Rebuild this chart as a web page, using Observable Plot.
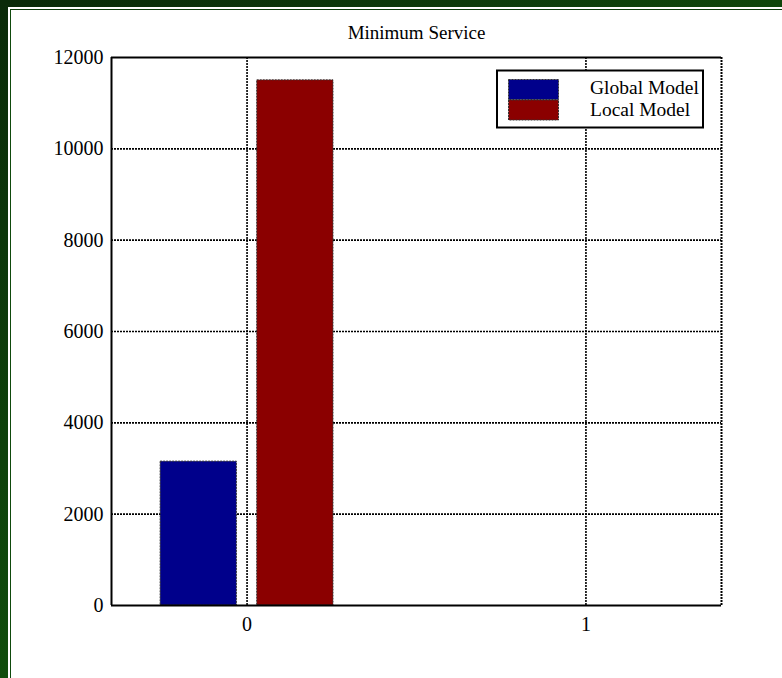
<!DOCTYPE html>
<html><head><meta charset="utf-8">
<script src="https://cdn.jsdelivr.net/npm/d3@7"></script>
<script src="https://cdn.jsdelivr.net/npm/@observablehq/plot@0.6"></script>
<style>
body{margin:0;background:#fff;}
#wrap{position:relative;width:782px;height:678px;overflow:hidden;background:#fff;}
#wrap svg{position:absolute;left:0;top:0;}
.b{position:absolute;}
</style></head><body><div id="wrap"></div>
<script>
const title = "Minimum Service";
const categories = [0];
const seriesNames = ["Global Model", "Local Model"];
const globalValues = [3150];
const localValues = [11500];
const seriesColors = ["#00008b", "#8b0000"];
const xTicks = [0, 1];
const yTicks = [0, 2000, 4000, 6000, 8000, 10000, 12000];

const barWidth = 0.225, barGap = 0.06;
const rows = [];
categories.forEach((c, i) => {
  [globalValues, localValues].forEach((vals, s) => {
    const x1 = s === 0 ? c - barGap / 2 - barWidth : c + barGap / 2;
    rows.push({cat: c, series: seriesNames[s], value: vals[i], zero: 0, x1, x2: x1 + barWidth});
  });
});

const xDom = [-0.4, 1.4], yDom = [0, 12000];
const font = "'Liberation Serif', 'Times New Roman', serif";

const chart = Plot.plot({
  width: 782, height: 678,
  marginLeft: 111, marginRight: 61, marginTop: 57, marginBottom: 73,
  style: {fontFamily: font, fontSize: "20px", color: "#000", background: "transparent"},
  x: {domain: xDom, ticks: xTicks, tickSize: 0, tickPadding: 11, tickFormat: d => String(d), label: null},
  y: {domain: yDom, ticks: yTicks, tickSize: 0, tickPadding: 8, tickFormat: d => String(d), label: null},
  color: {domain: seriesNames, range: seriesColors},
  marks: [
    Plot.ruleY(yTicks.filter(v => v > yDom[0] && v < yDom[1]), {stroke: "#000", strokeWidth: 1.6, strokeDasharray: "2,1"}),
    Plot.ruleX(xTicks, {stroke: "#000", strokeWidth: 1.6, strokeDasharray: "2,1"}),
    Plot.rect(rows, {x1: "x1", x2: "x2", y1: "zero", y2: "value", fill: "series", stroke: "#333", strokeWidth: 1, strokeDasharray: "2,1"}),
    Plot.ruleX([xDom[0]], {stroke: "#000", strokeWidth: 2}),
    Plot.ruleX([xDom[1]], {stroke: "#000", strokeWidth: 2, strokeDasharray: "2,1"}),
    Plot.ruleY([yDom[0]], {stroke: "#000", strokeWidth: 2}),
    Plot.ruleY([yDom[1]], {stroke: "#000", strokeWidth: 2}),
    Plot.text([title], {frameAnchor: "top", lineAnchor: "middle", dy: -25, fontSize: 19, fill: "#000"})
  ]
});
const wrap = document.getElementById("wrap");
wrap.appendChild(chart);

// legend
const svg = d3.select(chart);
const lg = svg.append("g").attr("text-anchor", "start");
lg.append("rect").attr("x", 497).attr("y", 70.5).attr("width", 206).attr("height", 57)
  .attr("fill", "#fff").attr("stroke", "#000").attr("stroke-width", 2);
seriesNames.forEach((name, i) => {
  lg.append("rect").attr("x", 508.5).attr("y", 79.5 + i * 20.5).attr("width", 50).attr("height", 20)
    .attr("fill", seriesColors[i]).attr("stroke", "#333").attr("stroke-dasharray", "2,1");
  lg.append("text").attr("x", 590).attr("y", 88 + i * 21.5).attr("dy", "0.32em")
    .attr("text-anchor", "start")
    .attr("font-family", font).attr("font-size", 19.5).attr("fill", "#000").text(name);
});

// page border
const borders = [
  {l: 0, t: 0, w: 782, h: 7, bg: "linear-gradient(to right,#0a2a09,#0f460b)"},
  {l: 0, t: 0, w: 8, h: 678, bg: "linear-gradient(to bottom,#0a2a09,#104d0c)"},
  {l: 10, t: 9, w: 1, h: 669, bg: "#0f4a0c"},
  {l: 10, t: 9, w: 772, h: 1, bg: "#0c3a0a"}
];
borders.forEach(b => {
  const d = document.createElement("div");
  d.className = "b";
  Object.assign(d.style, {left: b.l + "px", top: b.t + "px", width: b.w + "px", height: b.h + "px", background: b.bg});
  wrap.appendChild(d);
});
</script></body></html>
